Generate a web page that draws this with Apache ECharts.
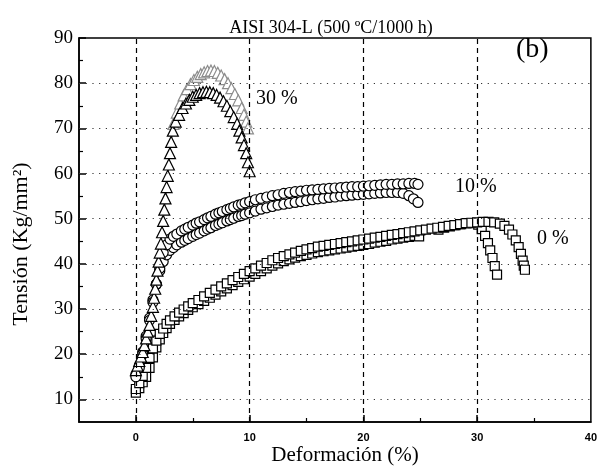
<!DOCTYPE html>
<html>
<head>
<meta charset="utf-8">
<script src="https://cdn.jsdelivr.net/npm/echarts@6/dist/echarts.min.js"></script>
<style>
  html, body { margin: 0; padding: 0; background: #fff; }
  #chart { width: 600px; height: 467px; }
</style>
</head>
<body>
<div id="chart"></div>
<script>
// Stress–strain curves of AISI 304-L aged 500 ºC / 1000 h, for 0 %, 10 % and 30 % prior cold work.
// Each point: [deformación (%), tensión (Kg/mm²)]

const xTickLabels = [0, 10, 20, 30, 40];
const yTickLabels = [10, 20, 30, 40, 50, 60, 70, 80, 90];
const vGridValues = [0, 10, 20, 30];
const hGridValues = [10, 20, 30, 40, 50, 60, 70, 80];

// 30 % cold work, test A (dark triangles)
const cw30a = [
  [0, 16.5], [0.15, 17.5], [0.3, 18.5], [0.45, 19.5], [0.6, 20.5], [0.75, 22], [0.9, 23.5],
  [1.05, 25], [1.2, 26.5], [1.35, 28.5], [1.5, 30.5], [1.6, 32.5], [1.7, 34.5], [1.8, 36.5],
  [1.9, 38.5], [2.0, 40.5], [2.1, 42.5], [2.2, 44.5], [2.3, 47], [2.4, 49.5], [2.5, 52],
  [2.6, 54.5], [2.7, 57], [2.8, 59.5], [2.9, 62], [3.0, 64.5], [3.1, 67], [3.25, 69.5],
  [3.5, 71.5], [3.8, 73], [4.1, 74.5], [4.4, 75.5], [4.7, 76.3], [5.0, 77], [5.3, 77.4],
  [5.6, 77.8], [5.9, 78], [6.2, 78.1], [6.5, 78], [6.8, 77.8], [7.1, 77.4], [7.4, 76.8],
  [7.7, 76], [8.0, 75], [8.3, 73.8], [8.6, 72.5], [8.9, 71], [9.1, 69.5], [9.3, 68],
  [9.5, 66.3], [9.7, 64.5], [9.85, 62.5], [10.0, 60.5]
];

// 30 % cold work, test B (light triangles)
const cw30b = [
  [3.3, 71], [3.6, 73.5], [3.9, 75.5], [4.2, 77.3], [4.5, 78.7], [4.8, 79.8], [5.1, 80.7],
  [5.4, 81.4], [5.7, 82], [6.0, 82.4], [6.3, 82.7], [6.6, 82.8], [6.9, 82.7], [7.2, 82.3],
  [7.5, 81.7], [7.8, 80.9], [8.1, 80], [8.4, 78.9], [8.7, 77.6], [9.0, 76.2], [9.3, 74.5],
  [9.5, 73], [9.7, 71.5], [9.85, 70]
];

// 10 % cold work, test A (circles, upper)
const cw10a = [
  [0, 15], [0.3, 17], [0.6, 20], [0.9, 23.5], [1.2, 27.5], [1.5, 31.5], [1.8, 35.5],
  [2.1, 39], [2.4, 42.5], [2.7, 44.2], [3.0, 45.5], [3.3, 46.1], [3.6, 46.6], [4.0, 47.3],
  [4.3, 47.7], [4.6, 48.1], [5.0, 48.6], [5.3, 49], [5.6, 49.3], [6.0, 49.8], [6.3, 50.2],
  [6.6, 50.5], [7.0, 51], [7.3, 51.3], [7.6, 51.6], [8.0, 52], [8.3, 52.3], [8.6, 52.6],
  [9.0, 53], [9.3, 53.2], [9.6, 53.5], [10.0, 53.8], [10.5, 54.2], [11.0, 54.5], [11.5, 54.8],
  [12.0, 55.1], [12.5, 55.3], [13.0, 55.6], [13.5, 55.8], [14.0, 56], [14.5, 56.1], [15.0, 56.3],
  [15.5, 56.4], [16.0, 56.5], [16.5, 56.6], [17.0, 56.7], [17.5, 56.8], [18.0, 56.9], [18.5, 57],
  [19.0, 57.1], [19.5, 57.1], [20.0, 57.2], [20.5, 57.3], [21.0, 57.4], [21.5, 57.5], [22.0, 57.6],
  [22.5, 57.6], [23.0, 57.7], [23.5, 57.7], [24.0, 57.8], [24.5, 57.8], [24.8, 57.6]
];

// 10 % cold work, test B (circles, lower)
const cw10b = [
  [0, 15.5], [0.3, 17.5], [0.6, 20.5], [0.9, 24], [1.2, 28], [1.5, 32], [1.8, 35.5],
  [2.1, 38.5], [2.4, 40.5], [2.7, 42], [3.0, 43], [3.3, 43.6], [3.6, 44.2], [4.0, 44.8],
  [4.3, 45.2], [4.6, 45.6], [5.0, 46.1], [5.3, 46.5], [5.6, 46.8], [6.0, 47.3], [6.3, 47.7],
  [6.6, 48], [7.0, 48.5], [7.3, 48.8], [7.6, 49.1], [8.0, 49.5], [8.3, 49.8], [8.6, 50.1],
  [9.0, 50.5], [9.3, 50.7], [9.6, 51], [10.0, 51.3], [10.5, 51.7], [11.0, 52.1], [11.5, 52.4],
  [12.0, 52.7], [12.5, 53], [13.0, 53.2], [13.5, 53.4], [14.0, 53.6], [14.5, 53.8], [15.0, 54],
  [15.5, 54.2], [16.0, 54.4], [16.5, 54.5], [17.0, 54.7], [17.5, 54.8], [18.0, 55], [18.5, 55.1],
  [19.0, 55.2], [19.5, 55.3], [20.0, 55.4], [20.5, 55.5], [21.0, 55.6], [21.5, 55.7], [22.0, 55.8],
  [22.5, 55.8], [23.0, 55.8], [23.5, 55.6], [24.0, 55.1], [24.4, 54.4], [24.8, 53.6]
];

// 0 % cold work, test A (squares, breaks near 31.8 %)
const cw0a = [
  [0, 11.5], [0.3, 12.5], [0.6, 13.8], [0.9, 15], [1.2, 17], [1.5, 19.3], [1.8, 21.5],
  [2.1, 23.3], [2.4, 24.7], [2.7, 25.8], [3.0, 26.7], [3.4, 27.6], [3.8, 28.4], [4.2, 29.1],
  [4.6, 29.8], [5.0, 30.4], [5.5, 31.1], [6.0, 31.8], [6.5, 32.5], [7.0, 33.2], [7.5, 33.9],
  [8.0, 34.6], [8.5, 35.3], [9.0, 36], [9.5, 36.6], [10.0, 37.2], [10.5, 37.8], [11.0, 38.4],
  [11.5, 39], [12.0, 39.6], [12.5, 40.1], [13.0, 40.6], [13.5, 41], [14.0, 41.4], [14.5, 41.7],
  [15.0, 42], [15.5, 42.3], [16.0, 42.6], [16.5, 42.8], [17.0, 43], [17.5, 43.2], [18.0, 43.4],
  [18.5, 43.6], [19.0, 43.8], [19.5, 44], [20.0, 44.2], [20.5, 44.4], [21.0, 44.7], [21.5, 44.9],
  [22.0, 45.1], [22.5, 45.4], [23.0, 45.6], [23.5, 45.8], [24.0, 46], [24.5, 46.2], [24.9, 46.1],
  [26.6, 47.6], [27.1, 48], [27.6, 48.3], [28.1, 48.6], [28.6, 48.8], [29.1, 49], [29.6, 49],
  [30.1, 48.7], [30.4, 47.7], [30.7, 46.2], [30.95, 44.6], [31.15, 43], [31.35, 41.3],
  [31.55, 39.5], [31.75, 37.6]
];

// 0 % cold work, test B (squares, breaks near 34.2 %)
const cw0b = [
  [0, 12.3], [0.3, 13.6], [0.6, 15.2], [0.9, 17], [1.2, 19.2], [1.5, 21.3], [1.8, 23],
  [2.1, 24.5], [2.4, 25.7], [2.7, 26.7], [3.0, 27.5], [3.4, 28.4], [3.8, 29.2], [4.2, 29.9],
  [4.6, 30.6], [5.0, 31.3], [5.5, 32], [6.0, 32.8], [6.5, 33.6], [7.0, 34.3], [7.5, 35],
  [8.0, 35.7], [8.5, 36.4], [9.0, 37.1], [9.5, 37.8], [10.0, 38.4], [10.5, 39], [11.0, 39.6],
  [11.5, 40.2], [12.0, 40.8], [12.5, 41.3], [13.0, 41.7], [13.5, 42.1], [14.0, 42.5], [14.5, 42.9],
  [15.0, 43.2], [15.5, 43.5], [16.0, 43.8], [16.5, 44], [17.0, 44.2], [17.5, 44.4], [18.0, 44.6],
  [18.5, 44.8], [19.0, 45], [19.5, 45.2], [20.0, 45.4], [20.5, 45.6], [21.0, 45.8], [21.5, 46],
  [22.0, 46.2], [22.5, 46.4], [23.0, 46.6], [23.5, 46.8], [24.0, 47], [24.5, 47.2], [25.0, 47.4],
  [25.5, 47.6], [26.0, 47.8], [26.5, 48], [27.0, 48.2], [27.5, 48.4], [28.0, 48.6], [28.5, 48.8],
  [29.0, 49], [29.5, 49.1], [30.0, 49.2], [30.5, 49.3], [31.0, 49.3], [31.5, 49.2], [32.0, 48.9],
  [32.4, 48.4], [32.8, 47.6], [33.1, 46.5], [33.4, 45.2], [33.65, 43.7], [33.85, 42.2],
  [34.0, 40.7], [34.1, 39.6], [34.2, 38.7]
];

const serif = '"Liberation Serif", "DejaVu Serif", serif';

function curve(data, symbol, size, stroke) {
  return {
    type: 'line',
    data: data,
    symbol: symbol,
    symbolSize: size,
    showSymbol: true,
    lineStyle: { color: stroke, width: 0.8 },
    itemStyle: { color: '#ffffff', borderColor: stroke, borderWidth: 1.2 },
    emphasis: { disabled: true },
    silent: true,
    z: 3
  };
}

const chart = echarts.init(document.getElementById('chart'), null, { renderer: 'canvas' });

const option = {
  animation: false,
  backgroundColor: '#ffffff',
  title: {
    text: 'AISI 304-L (500 ºC/1000 h)',
    left: 326,
    top: 14,
    textAlign: 'center',
    textStyle: { fontFamily: serif, fontSize: 18, fontWeight: 'normal', color: '#000' }
  },
  grid: {
    left: 79, right: 6, top: 38, bottom: 45,
    show: true, borderColor: '#000', borderWidth: 1.5, backgroundColor: 'transparent'
  },
  xAxis: [
    {
      type: 'value', min: -5, max: 40, interval: 5, position: 'bottom',
      axisLine: { onZero: false, lineStyle: { color: '#000', width: 1.5 } },
      axisTick: { inside: true, length: 7, customValues: [0, 10, 20, 30], lineStyle: { color: '#000', width: 1.5 } },
      axisLabel: {
        customValues: xTickLabels, margin: 10,
        fontFamily: '"Liberation Sans", Arial, sans-serif', fontWeight: 'bold', fontSize: 11, color: '#000'
      },
      splitLine: { show: false }
    },
    {
      type: 'value', min: -5, max: 40, interval: 5, position: 'bottom', gridIndex: 0,
      axisLine: { show: false, onZero: false },
      axisTick: { inside: true, length: 4, customValues: [5, 15, 25, 35], lineStyle: { color: '#000', width: 1.2 } },
      axisLabel: { show: false },
      splitLine: { show: false }
    }
  ],
  yAxis: [
    {
      type: 'value', min: 5, max: 90, interval: 5, position: 'left',
      axisLine: { onZero: false, lineStyle: { color: '#000', width: 1.5 } },
      axisTick: { inside: true, length: 7, customValues: yTickLabels, lineStyle: { color: '#000', width: 1.5 } },
      axisLabel: {
        customValues: yTickLabels, margin: 6,
        fontFamily: serif, fontSize: 19, color: '#000'
      },
      splitLine: { show: false }
    },
    {
      type: 'value', min: 5, max: 90, interval: 5, position: 'left', gridIndex: 0,
      axisLine: { show: false, onZero: false },
      axisTick: { inside: true, length: 4, customValues: [15, 25, 35, 45, 55, 65, 75, 85], lineStyle: { color: '#000', width: 1.2 } },
      axisLabel: { show: false },
      splitLine: { show: false }
    }
  ],
  graphic: [
    {
      type: 'text', x: 345, y: 455,
      style: { text: 'Deformación (%)', font: '21px ' + serif, fill: '#000', align: 'center', verticalAlign: 'middle' }
    },
    {
      type: 'text', x: 21, y: 244, rotation: Math.PI / 2,
      style: { text: 'Tensión (Kg/mm²)', font: '22px ' + serif, fill: '#000', align: 'center', verticalAlign: 'middle' }
    },
    {
      type: 'text', left: 516, top: 36,
      style: { text: '(b)', font: '28px ' + serif, fill: '#000' }
    },
    {
      type: 'text', left: 256, top: 89,
      style: { text: '30 %', font: '20px ' + serif, fill: '#000' }
    },
    {
      type: 'text', left: 455, top: 177,
      style: { text: '10 %', font: '20px ' + serif, fill: '#000' }
    },
    {
      type: 'text', left: 537, top: 229,
      style: { text: '0 %', font: '20px ' + serif, fill: '#000' }
    }
  ],
  series: [
    {
      type: 'line', data: [], silent: true,
      markLine: {
        silent: true, symbol: 'none', label: { show: false },
        lineStyle: { color: '#333', width: 1, type: [1.2, 5.5] },
        data: hGridValues.map(v => ({ yAxis: v }))
      }
    },
    {
      type: 'line', data: [], silent: true,
      markLine: {
        silent: true, symbol: 'none', label: { show: false },
        lineStyle: { color: '#000', width: 1.2, type: [5, 4] },
        data: vGridValues.map(v => ({ xAxis: v }))
      }
    },
    curve(cw0a, 'rect', 9, '#000'),
    curve(cw0b, 'rect', 9, '#000'),
    curve(cw10b, 'circle', 10, '#000'),
    curve(cw10a, 'circle', 10, '#000'),
    curve(cw30b, 'triangle', 11, '#8c8c8c'),
    curve(cw30a, 'triangle', 11, '#000')
  ]
};

chart.setOption(option);
</script>
</body>
</html>
